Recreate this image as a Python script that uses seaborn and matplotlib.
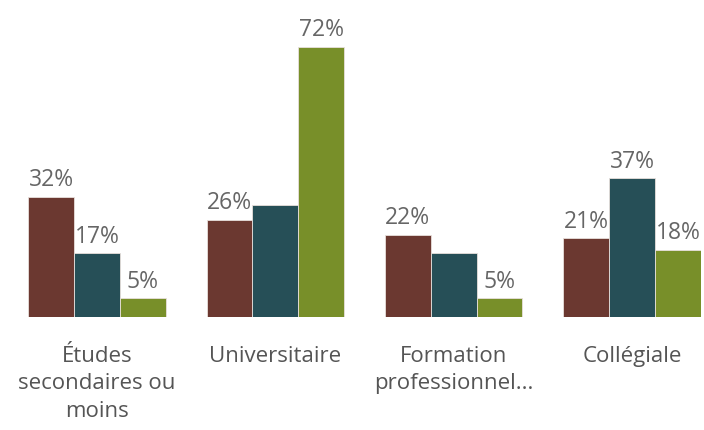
import numpy as np
import pandas as pd
import matplotlib.pyplot as plt
import seaborn as sns

# chart data
categories = ["Études\nsecondaires ou\nmoins", "Universitaire", "Formation\nprofessionnel...", "Collégiale"]
series_names = ["A", "B", "C"]
series_a = [32, 26, 22, 21]
series_b = [17, 30, 17, 37]
series_c = [5, 72, 5, 18]
# which labels the original shows
show_a = [True, True, True, True]
show_b = [True, False, False, True]
show_c = [True, True, True, True]

colors = ["#6B3830", "#264F57", "#788F29"]

rows = []
for name, vals in zip(series_names, [series_a, series_b, series_c]):
    for cat, v in zip(categories, vals):
        rows.append({"cat": cat, "series": name, "value": v})
df = pd.DataFrame(rows)

sns.set_style("white")
plt.rcParams['font.family'] = ['Open Sans', 'DejaVu Sans']

fig = plt.figure(figsize=(7.04, 4.31), dpi=100)
ax = fig.add_axes([28 / 704, (431 - 318) / 431, 673 / 704, 300 / 431])

sns.barplot(data=df, x="cat", y="value", hue="series", palette=colors,
            saturation=1, width=0.77, gap=0, edgecolor="#e8e0dc",
            linewidth=0.6, legend=False, ax=ax)

ax.set_xlim(-0.386, 3.386)
ax.set_ylim(0, 72 * 300 / 270)

shows = [show_a, show_b, show_c]
for cont, vals, show in zip(ax.containers, [series_a, series_b, series_c], shows):
    labels = [f"{v}%" if s else "" for v, s in zip(vals, show)]
    ax.bar_label(cont, labels=labels, padding=4, fontsize=16.5, color="#666666")

ax.set_xlabel("")
ax.set_ylabel("")
ax.set_yticks([])
ax.tick_params(axis="x", length=0, pad=20, labelsize=16, labelcolor="#555555")
for lbl in ax.get_xticklabels():
    lbl.set_linespacing(1.4)
for s in ax.spines.values():
    s.set_visible(False)

fig.savefig("out.png", dpi=100)
